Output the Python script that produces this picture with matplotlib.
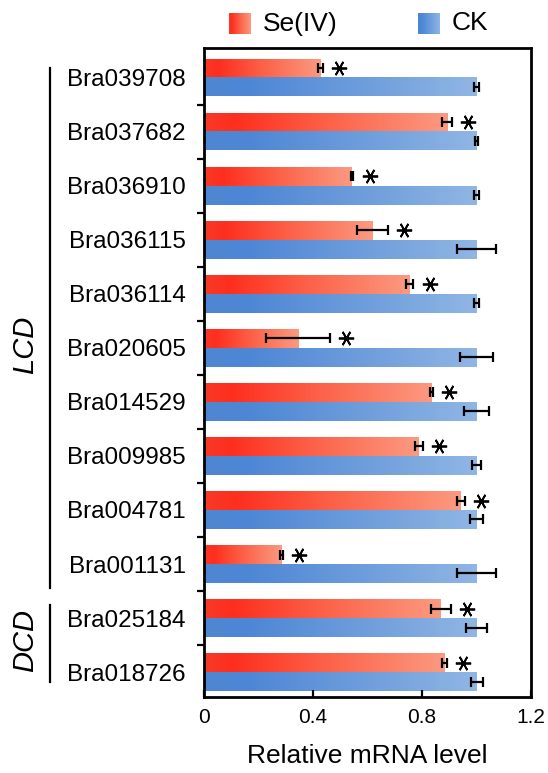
import numpy as np
import matplotlib
matplotlib.use('Agg')
import matplotlib.pyplot as plt
import matplotlib.transforms as mtransforms
from matplotlib.colors import LinearSegmentedColormap

plt.rcParams['font.family'] = ['Liberation Sans', 'DejaVu Sans']

genes = ['Bra039708', 'Bra037682', 'Bra036910', 'Bra036115', 'Bra036114', 'Bra020605',
         'Bra014529', 'Bra009985', 'Bra004781', 'Bra001131', 'Bra025184', 'Bra018726']
se_vals = [0.427, 0.892, 0.543, 0.618, 0.755, 0.345, 0.834, 0.788, 0.942, 0.284, 0.869, 0.882]
se_err = [0.010, 0.018, 0.005, 0.057, 0.013, 0.116, 0.005, 0.015, 0.015, 0.006, 0.037, 0.008]
ck_vals = [1.0] * 12
ck_err = [0.010, 0.005, 0.010, 0.072, 0.010, 0.062, 0.045, 0.015, 0.025, 0.073, 0.038, 0.022]
# (label, first row edge, last row edge, label centre) in row units
groups = [('LCD', -0.18, 9.45, 4.95), ('DCD', 9.76, 11.18, 10.42)]

red_cmap = LinearSegmentedColormap.from_list(
    'red', [(0, '#f83a28'), (0.12, '#fe2e1e'), (0.5, '#fc6148'), (1, '#fb9a80')])
blue_cmap = LinearSegmentedColormap.from_list(
    'blue', [(0, '#4f86d2'), (0.15, '#4d86d5'), (0.6, '#6f9edc'), (1, '#90b6e4')])
grad = np.linspace(0, 1, 256).reshape(1, -1)

fig = plt.figure(figsize=(5.48, 7.73), dpi=100)
ax = fig.add_axes([0.3723, 0.0983, 0.5967, 0.8396])

y = np.arange(len(genes))
h = 0.35


def gradient_bars(vals, pos, cmap):
    bars = ax.barh(pos, vals, height=h, color='none', edgecolor='none')
    for b in bars:
        x0, y0 = b.get_x(), b.get_y()
        ax.imshow(grad, cmap=cmap, aspect='auto', interpolation='bicubic',
                  extent=[x0, x0 + b.get_width(), y0 + b.get_height(), y0], zorder=1)


gradient_bars(se_vals, y - h / 2, red_cmap)
gradient_bars(ck_vals, y + h / 2, blue_cmap)

ekw = dict(fmt='none', ecolor='black', elinewidth=1.6, capsize=3.6, capthick=1.6, zorder=3)
ax.errorbar(se_vals, y - h / 2, xerr=se_err, **ekw)
ax.errorbar(ck_vals, y + h / 2, xerr=ck_err, **ekw)

star_x = np.array(se_vals) + np.array(se_err) + 0.06
ax.plot(star_x, y - h / 2, linestyle='none', marker=(6, 2, 90), ms=11, mew=1.3,
        color='black', zorder=3)

ax.set_xlim(0, 1.2)
ax.set_ylim(11.46, -0.546)
ax.set_xticks([0, 0.4, 0.8, 1.2])
ax.set_xticklabels(['0', '0.4', '0.8', '1.2'])
ax.set_yticks(y)
ax.set_yticklabels(genes)
ax.set_yticks(y[:-1] + 0.5, minor=True)
ax.tick_params(axis='y', which='major', length=0, pad=13, labelsize=17.5)
ax.tick_params(axis='y', which='minor', length=5, width=1.6, direction='out')
ax.tick_params(axis='x', which='major', length=5, width=1.6, direction='in', pad=8, labelsize=15)
for s in ax.spines.values():
    s.set_linewidth(2)
ax.set_xlabel('Relative mRNA level', fontsize=19, labelpad=12)

# group brackets on the left
trans = mtransforms.blended_transform_factory(fig.transFigure, ax.transData)
for name, top, bot, mid in groups:
    ax.plot([0.091, 0.091], [top, bot], transform=trans, color='black', lw=1.6, clip_on=False)
    ax.text(0.045, mid, name, transform=trans,
            rotation=90, style='italic', fontsize=21, ha='center', va='center')

# legend with gradient swatches
H = 773.0
W = 548.0
for x0, cmap, label in [(229, red_cmap, 'Se(IV)'), (418, blue_cmap, 'CK')]:
    lax = fig.add_axes([x0 / W, 1 - 34.3 / H, 22 / W, 21.6 / H])
    lax.imshow(grad, cmap=cmap, aspect='auto', interpolation='bicubic')
    lax.axis('off')
    fig.text((x0 + 34) / W, 1 - 23.5 / H, label, fontsize=19, ha='left', va='center')

fig.savefig('out.png', dpi=100)
